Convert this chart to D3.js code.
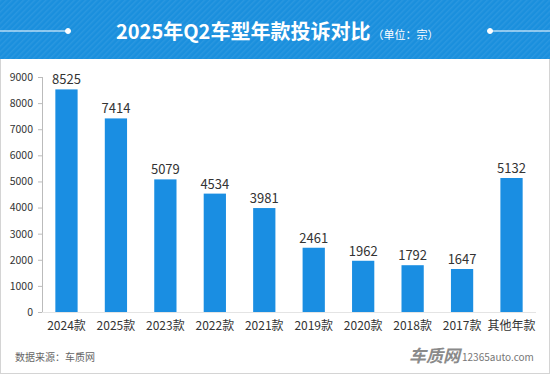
<!DOCTYPE html>
<html>
<head>
<meta charset="utf-8">
<script src="https://cdn.jsdelivr.net/npm/d3@7"></script>
<style>
  html, body { margin: 0; padding: 0; background: #fff; }
  svg { display: block; }
</style>
</head>
<body>
<div id="chart"></div>
<script>
// chart values
const categories = ["2024款", "2025款", "2023款", "2022款", "2021款", "2019款", "2020款", "2018款", "2017款", "其他年款"]
const complaints = [8525, 7414, 5079, 4534, 3981, 2461, 1962, 1792, 1647, 5132]
const yTicks = [0, 1000, 2000, 3000, 4000, 5000, 6000, 7000, 8000, 9000]

const width = 550
const height = 374
const font = "'Noto Sans CJK SC', 'Noto Sans', sans-serif"
const barColor = "#1a8ee2"

const svg = d3.select("#chart").append("svg")
    .attr("width", width)
    .attr("height", height)
    .attr("font-family", font)

// outer frame
svg.append("rect")
    .attr("x", 0.5).attr("y", 0.5)
    .attr("width", width - 1).attr("height", height - 1)
    .attr("fill", "#fff")
    .attr("stroke", "#d4d4d4")

// title band with faint diagonal stripes
const defs = svg.append("defs")
const pat = defs.append("pattern")
    .attr("id", "stripes")
    .attr("width", 4).attr("height", 4)
    .attr("patternUnits", "userSpaceOnUse")
    .attr("patternTransform", "rotate(45)")
pat.append("rect").attr("width", 4).attr("height", 4).attr("fill", "#1a8fdd")
pat.append("rect").attr("width", 1.5).attr("height", 4).attr("fill", "#2a97e0")

svg.append("rect")
    .attr("x", 0).attr("y", 0)
    .attr("width", width).attr("height", 59)
    .attr("fill", "url(#stripes)")

// decorative lines with dots
const deco = svg.append("g").attr("stroke", "#fff").attr("fill", "#fff")
deco.append("line").attr("x1", 0).attr("x2", 68).attr("y1", 31).attr("y2", 31).attr("stroke-width", 1.2)
deco.append("circle").attr("cx", 68).attr("cy", 31).attr("r", 2.5)
deco.append("line").attr("x1", 490).attr("x2", width).attr("y1", 31).attr("y2", 31).attr("stroke-width", 1.2)
deco.append("circle").attr("cx", 490).attr("cy", 31).attr("r", 2.5)

const title = svg.append("text")
    .attr("x", 116).attr("y", 39)
    .attr("fill", "#fff")
title.append("tspan")
    .attr("font-size", 20)
    .attr("font-weight", "bold")
    .text("2025年Q2车型年款投诉对比")
title.append("tspan")
    .attr("dx", 2)
    .attr("font-size", 11)
    .text("（单位：宗）")

// scales
const x = d3.scaleBand()
    .domain(categories)
    .range([42, 536])
    .paddingInner(0.55)
    .paddingOuter(0.27)

const y = d3.scaleLinear()
    .domain([0, 9000])
    .range([312, 77])

// y axis
svg.append("g")
    .attr("transform", "translate(42,0)")
    .call(d3.axisLeft(y).tickValues(yTicks).tickFormat(d3.format("d")).tickSize(4).tickPadding(5))
    .call(g => g.select(".domain").attr("stroke", "#bbb").attr("d", "M0.5,77V312.5"))
    .call(g => g.selectAll(".tick line").attr("stroke", "#bbb"))
    .call(g => g.selectAll(".tick text")
        .attr("fill", "#333")
        .attr("font-size", 10.5)
        .attr("font-family", font))

// baseline
svg.append("line")
    .attr("x1", 42).attr("x2", 536)
    .attr("y1", 312.5).attr("y2", 312.5)
    .attr("stroke", "#e4e4e4")

// bars
svg.append("g")
    .selectAll("rect")
    .data(complaints)
    .join("rect")
    .attr("x", (d, i) => x(categories[i]))
    .attr("y", d => y(d))
    .attr("width", x.bandwidth())
    .attr("height", d => y(0) - y(d))
    .attr("fill", barColor)

// value labels
svg.append("g")
    .selectAll("text")
    .data(complaints)
    .join("text")
    .attr("x", (d, i) => x(categories[i]) + x.bandwidth() / 2)
    .attr("y", d => y(d) - 5)
    .attr("text-anchor", "middle")
    .attr("font-size", 13)
    .attr("fill", "#333")
    .text(d => d)

// category labels
svg.append("g")
    .selectAll("text")
    .data(categories)
    .join("text")
    .attr("x", d => x(d) + x.bandwidth() / 2)
    .attr("y", 330)
    .attr("text-anchor", "middle")
    .attr("font-size", 12)
    .attr("fill", "#333")
    .text(d => d)

// source note
svg.append("text")
    .attr("x", 15).attr("y", 361)
    .attr("font-size", 10)
    .attr("fill", "#666")
    .text("数据来源：车质网")

// logo
svg.append("text")
    .attr("x", 409).attr("y", 362)
    .attr("font-size", 17)
    .attr("font-weight", "bold")
    .attr("font-style", "italic")
    .attr("fill", "#8a8a8a")
    .text("车质网")
svg.append("text")
    .attr("x", 462).attr("y", 361)
    .attr("font-size", 10)
    .attr("fill", "#777")
    .text("12365auto.com")
</script>
</body>
</html>
